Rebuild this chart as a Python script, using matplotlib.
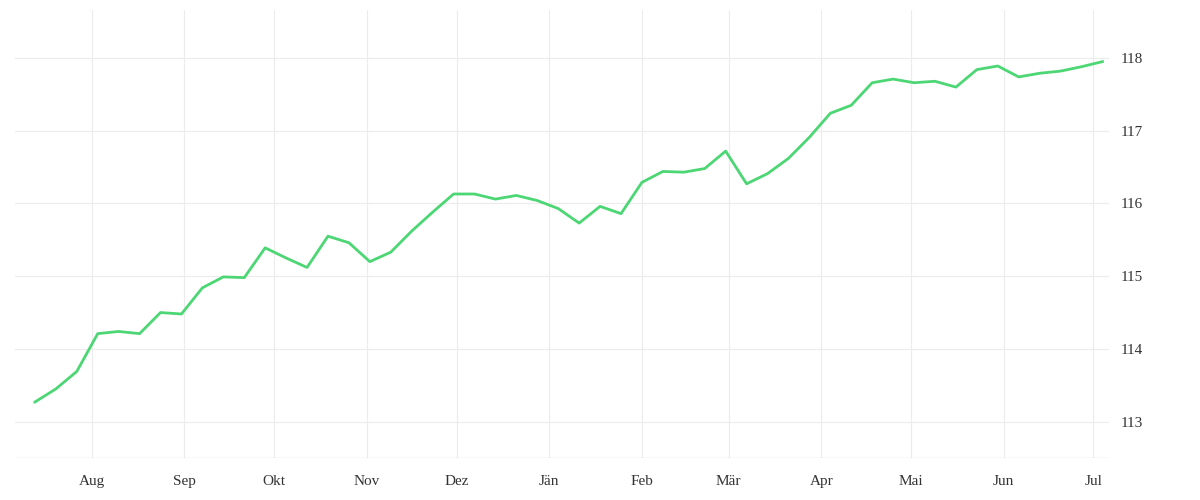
import matplotlib
matplotlib.use("Agg")
import matplotlib.pyplot as plt
import pandas as pd

start = "2023-07-13"
values = [113.27,113.45,113.69,114.21,114.24,114.21,114.50,114.48,114.84,114.99,114.98,115.39,
          115.25,115.12,115.55,115.46,115.20,115.33,115.62,115.88,116.13,116.13,116.06,116.11,
          116.04,115.93,115.73,115.96,115.86,116.29,116.44,116.43,116.48,116.72,116.27,116.41,
          116.62,116.91,117.24,117.35,117.66,117.71,117.66,117.68,117.60,117.84,117.89,117.74,
          117.79,117.82,117.88,117.95]
month_labels = ["Aug","Sep","Okt","Nov","Dez","Jän","Feb","Mär","Apr","Mai","Jun","Jul"]
y_ticks = [113,114,115,116,117,118]

dates = pd.date_range(start, periods=len(values), freq="7D")
month_starts = pd.date_range("2023-08-01", periods=12, freq="MS")

plt.rcParams['font.family'] = ['Liberation Serif', 'DejaVu Serif']
fig = plt.figure(figsize=(12, 5), dpi=100)
ax = fig.add_axes([0.0125, 0.084, 0.912, 0.896])
ax.plot(dates, values, color="#4cd674", lw=2.0)
ax.set_xlim(pd.Timestamp("2023-07-06 08:00"), pd.Timestamp("2024-07-06 08:00"))
ax.set_ylim(112.5, 118.66)
ax.set_xticks(month_starts)
ax.set_xticklabels(month_labels)
ax.set_yticks(y_ticks)
ax.yaxis.tick_right()
ax.grid(True, color="#ececec", lw=0.8)
for s in ax.spines.values():
    s.set_visible(False)
ax.axhline(112.5, color="#e0e0e0", lw=1)
ax.tick_params(axis="both", length=0, labelsize=11, colors="#333333", pad=8)
ax.tick_params(axis="x", pad=12)
fig.savefig("out.png")
